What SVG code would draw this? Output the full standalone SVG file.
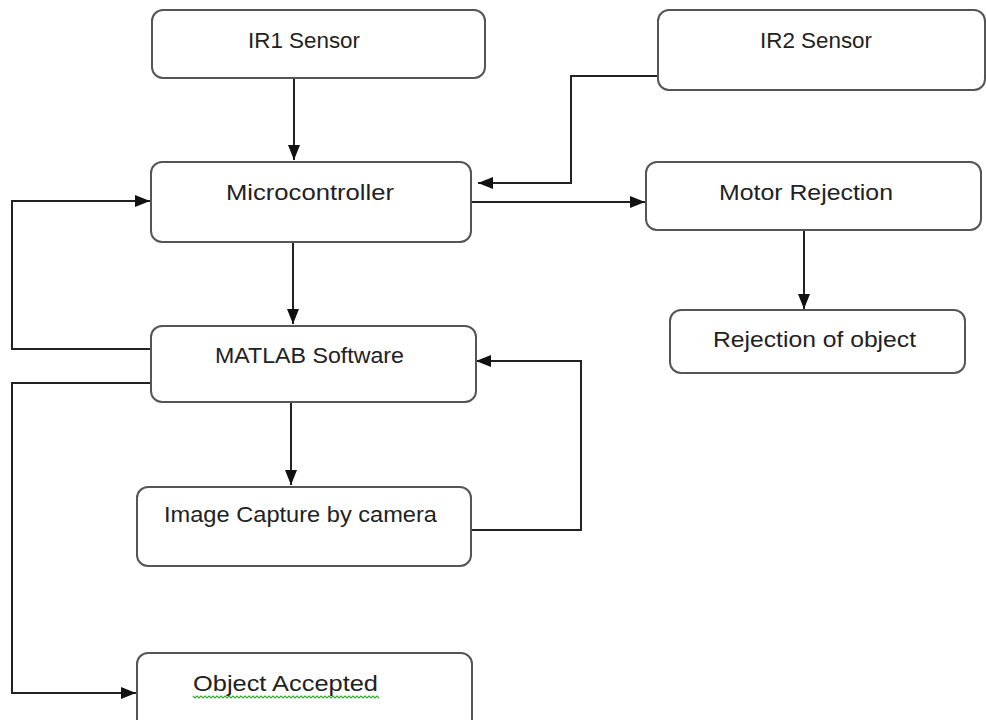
<svg xmlns="http://www.w3.org/2000/svg" width="986" height="720" viewBox="0 0 986 720">
<style>
.box{fill:#fff;stroke:#555;stroke-width:2}
.lbl{font-family:"Liberation Sans",Arial,sans-serif;font-size:22px;fill:#222}
.con{fill:none;stroke:#222;stroke-width:2}
</style>
<defs>
<marker id="ah" markerUnits="userSpaceOnUse" markerWidth="15" markerHeight="12" viewBox="0 0 15 12" refX="15" refY="6" orient="auto">
<path d="M0,0 L15,6 L0,12 Z" fill="#111"/>
</marker>
</defs>
<rect width="986" height="720" fill="#fff"/>
<g id="connectors">
<path class="con" d="M294,78 V160" marker-end="url(#ah)"/>
<path class="con" d="M658,76 H571 V183 H478" marker-end="url(#ah)"/>
<path class="con" d="M472,202 H645" marker-end="url(#ah)"/>
<path class="con" d="M804,230 V309" marker-end="url(#ah)"/>
<path class="con" d="M293,242 V324" marker-end="url(#ah)"/>
<path class="con" d="M151,349 H12 V201 H150" marker-end="url(#ah)"/>
<path class="con" d="M151,383 H12 V693 H136" marker-end="url(#ah)"/>
<path class="con" d="M291,402 V485" marker-end="url(#ah)"/>
<path class="con" d="M471,530 H581 V361 H476" marker-end="url(#ah)"/>
</g>
<g id="ir1"><rect class="box" x="152" y="10" width="333" height="68" rx="11"/><text class="lbl" x="248" y="48" textLength="112" lengthAdjust="spacingAndGlyphs">IR1 Sensor</text></g>
<g id="ir2"><rect class="box" x="658" y="10" width="327" height="80" rx="11"/><text class="lbl" x="760" y="48" textLength="112" lengthAdjust="spacingAndGlyphs">IR2 Sensor</text></g>
<g id="micro"><rect class="box" x="151" y="162" width="320" height="80" rx="11"/><text class="lbl" x="226" y="200" textLength="168" lengthAdjust="spacingAndGlyphs">Microcontroller</text></g>
<g id="motor"><rect class="box" x="646" y="162" width="335" height="68" rx="11"/><text class="lbl" x="719" y="200" textLength="174" lengthAdjust="spacingAndGlyphs">Motor Rejection</text></g>
<g id="reject"><rect class="box" x="670" y="310" width="295" height="63" rx="11"/><text class="lbl" x="713" y="347" textLength="203" lengthAdjust="spacingAndGlyphs">Rejection of object</text></g>
<g id="matlab"><rect class="box" x="151" y="326" width="325" height="76" rx="11"/><text class="lbl" x="215" y="363" textLength="189" lengthAdjust="spacingAndGlyphs">MATLAB Software</text></g>
<g id="capture"><rect class="box" x="137" y="487" width="334" height="79" rx="11"/><text class="lbl" x="164" y="522" textLength="273" lengthAdjust="spacingAndGlyphs">Image Capture by camera</text></g>
<g id="accepted"><rect class="box" x="137" y="653" width="335" height="80" rx="11"/><text class="lbl" x="193" y="691" textLength="185" lengthAdjust="spacingAndGlyphs">Object Accepted</text>
<path d="M193,696 l2,2 l2,-2 l2,2 l2,-2 l2,2 l2,-2 l2,2 l2,-2 l2,2 l2,-2 l2,2 l2,-2 l2,2 l2,-2 l2,2 l2,-2 l2,2 l2,-2 l2,2 l2,-2 l2,2 l2,-2 l2,2 l2,-2 l2,2 l2,-2 l2,2 l2,-2 l2,2 l2,-2 l2,2 l2,-2 l2,2 l2,-2 l2,2 l2,-2 l2,2 l2,-2 l2,2 l2,-2 l2,2 l2,-2 l2,2 l2,-2 l2,2 l2,-2 l2,2 l2,-2 l2,2 l2,-2 l2,2 l2,-2 l2,2 l2,-2 l2,2 l2,-2 l2,2 l2,-2 l2,2 l2,-2 l2,2 l2,-2 l2,2 l2,-2 l2,2 l2,-2 l2,2 l2,-2 l2,2 l2,-2 l2,2 l2,-2 l2,2 l2,-2 l2,2 l2,-2 l2,2 l2,-2 l2,2 l2,-2 l2,2 l2,-2 l2,2 l2,-2 l2,2 l2,-2 l2,2 l2,-2 l2,2 l2,-2 l2,2 l2,-2 l2,2" fill="none" stroke="#3a3" stroke-width="1.2"/></g>
</svg>
